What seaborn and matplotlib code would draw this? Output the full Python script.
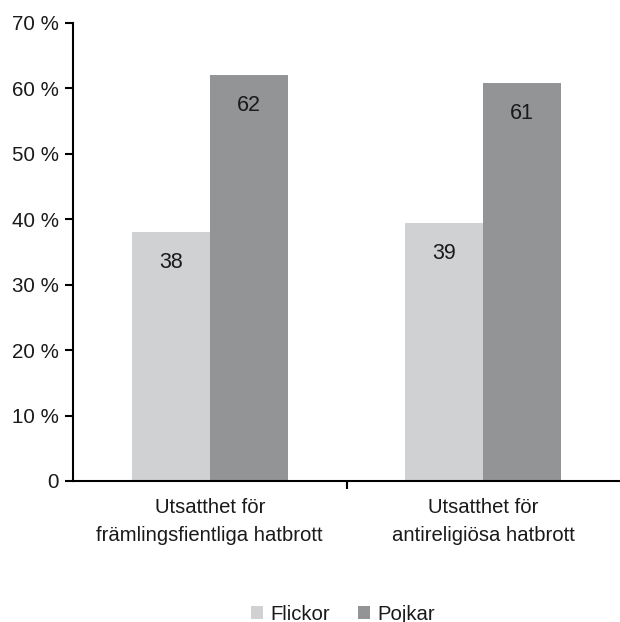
import matplotlib
matplotlib.use("Agg")
import matplotlib.pyplot as plt
import seaborn as sns
import pandas as pd
from matplotlib.patches import Patch

categories = ["Utsatthet för\nfrämlingsfientliga hatbrott", "Utsatthet för\nantireligiösa hatbrott"]
groups = ["Flickor", "Pojkar"]
flickor = [38.0, 39.4]
pojkar = [62.0, 60.8]
labels_flickor = ["38", "39"]
labels_pojkar = ["62", "61"]
yticks = [0, 10, 20, 30, 40, 50, 60, 70]
ytick_labels = ["0", "10 %", "20 %", "30 %", "40 %", "50 %", "60 %", "70 %"]
colors = ["#d0d1d3", "#939496"]

sns.set_theme(style="white")
plt.rcParams["font.family"] = ["Liberation Sans", "DejaVu Sans"]
txt = "#1a1a1a"

df = pd.DataFrame({
    "cat": categories * 2,
    "grp": [groups[0]] * 2 + [groups[1]] * 2,
    "val": flickor + pojkar,
})

fig = plt.figure(figsize=(6.2, 6.22), dpi=100)
ax = fig.add_axes([73/620, 1 - 481/622, 1 - 73/620, (481 - 23)/622])
sns.barplot(data=df, x="cat", y="val", hue="grp", palette=colors, ax=ax,
            width=0.57, saturation=1, legend=False, errorbar=None, linewidth=0)

for cont, labs in zip(ax.containers, [labels_flickor, labels_pojkar]):
    for bar, lab in zip(cont, labs):
        ax.annotate(lab, (bar.get_x() + bar.get_width()/2, bar.get_height()),
                    xytext=(0, -22), textcoords="offset points",
                    ha="center", va="center", fontsize=15.5, color=txt)

ax.set_xlim(-0.5, 1.5)
ax.set_ylim(0, 70)
ax.set_yticks(yticks)
ax.set_yticklabels(ytick_labels, fontsize=14.8, color=txt)
ax.set_xticks([0, 1])
ax.set_xticklabels(categories, fontsize=14.6, color=txt, linespacing=1.6)
ax.set_xticks([0.5], minor=True)
ax.tick_params(axis="x", which="major", length=0, pad=12)
ax.tick_params(axis="x", which="minor", length=6, width=1.5, color="black", direction="out", bottom=True)
ax.tick_params(axis="y", length=6, width=1.5, color="black", direction="out", left=True, pad=4)
ax.set_xlabel("")
ax.set_ylabel("")
for s in ["top", "right"]:
    ax.spines[s].set_visible(False)
for s in ["left", "bottom"]:
    ax.spines[s].set_color("black")
    ax.spines[s].set_linewidth(1.5)

handles = [Patch(facecolor=c, edgecolor="none") for c in colors]
fig.legend(handles, groups, loc="center", bbox_to_anchor=(343/620, 1 - 614/622),
           ncol=2, frameon=False, fontsize=14.6, handlelength=0.6, handleheight=0.6,
           handletextpad=0.35, columnspacing=1.4, labelcolor=txt)

fig.savefig("out.png", dpi=100)
